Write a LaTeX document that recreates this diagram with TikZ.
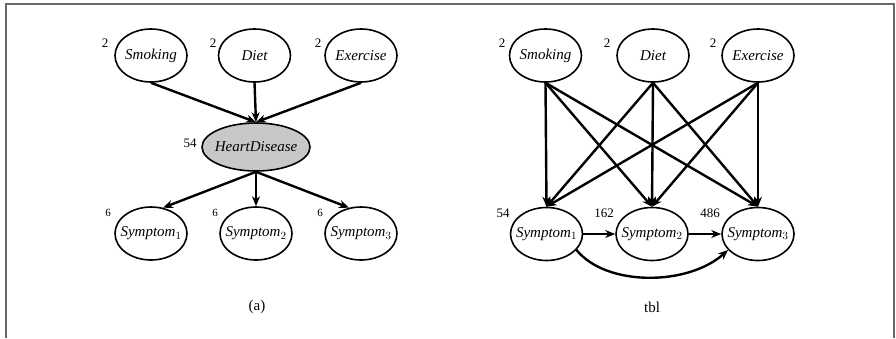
\documentclass[tikz,border=0pt]{standalone}
\usepackage{fontspec}
\setmainfont{Liberation Serif}
\usetikzlibrary{shapes.geometric,arrows.meta}
\definecolor{hdgray}{RGB}{200,200,200}
\definecolor{framegray}{RGB}{105,105,105}
\newcommand{\zw}[1]{\makebox[0pt][c]{#1}}
\begin{document}
\begin{tikzpicture}[x=1pt,y=-1pt,
  var/.style={ellipse,draw=black,line width=1.6pt,minimum width=72pt,minimum height=53pt,inner sep=0pt,font=\fontsize{15}{17}\selectfont\itshape},
  num/.style={inner sep=0pt,font=\fontsize{13}{15}\selectfont},
  smallnum/.style={inner sep=0pt,font=\fontsize{11}{13}\selectfont},
  arc/.style={line width=2.4pt,-{Stealth[length=10pt,width=8pt]}},
  captxt/.style={inner sep=0pt,font=\fontsize{15}{17}\selectfont}]
\useasboundingbox (0,0) rectangle (896,338);
\draw[framegray,line width=1.5pt] (6,338) -- (6,4) -- (894,4) -- (894,338);

% ---------- (a) ----------
\node[var] (sm) at (151,55.5) {\zw{Smoking}};
\node[var] (di) at (254.5,55.5) {\zw{Diet}};
\node[var] (ex) at (361,55.5) {\zw{Exercise}};
\node[var,fill=hdgray,minimum width=108pt,minimum height=48pt] (hd) at (256,147) {\zw{HeartDisease}};
\node[var] (s1) at (151,233.5) {\zw{Symptom$_1$}};
\node[var] (s2) at (256,233.5) {\zw{Symptom$_2$}};
\node[var] (s3) at (361,233.5) {\zw{Symptom$_3$}};

\node[num] (nsm) at (105,43) {2};
\node[num] (ndi) at (213,43) {2};
\node[num] (nex) at (318,43) {2};
\node[num] (nhd) at (190,143) {54};
\node[smallnum] (ns1) at (108,213) {6};
\node[smallnum] (ns2) at (215,213) {6};
\node[smallnum] (ns3) at (320,213) {6};

\draw[arc] (sm.south) -- (hd.north);
\draw[arc] (di.south) -- (hd.north);
\draw[arc] (ex.south) -- (hd.north);
\draw[arc] (hd.south) -- (s1.65);
\draw[arc] (hd.south) -- (s2.north);
\draw[arc] (hd.south) -- (s3.115);

\node[captxt] (capa) at (257,307) {(a)};

% ---------- (b) ----------
\node[var] (rsm) at (545.5,55.5) {\zw{Smoking}};
\node[var] (rdi) at (653,55.5) {\zw{Diet}};
\node[var] (rex) at (758,55.5) {\zw{Exercise}};
\node[var] (r1) at (546.5,234) {\zw{Symptom$_1$}};
\node[var] (r2) at (652,234) {\zw{Symptom$_2$}};
\node[var] (r3) at (758,234) {\zw{Symptom$_3$}};

\node[num] (nrsm) at (502,43) {2};
\node[num] (nrdi) at (607,43) {2};
\node[num] (nrex) at (713,43) {2};
\node[num] (nr1) at (503,213) {54};
\node[num] (nr2) at (604,213) {162};
\node[num] (nr3) at (710,213) {486};

\foreach \p in {rsm,rdi,rex}{
  \foreach \c in {r1,r2,r3}{
    \draw[arc] (\p.south) -- (\c.north);
  }
}
\draw[arc] (r1.east) -- (r2.west);
\draw[arc] (r2.east) -- (r3.west);
\draw[arc] (r1.-28) .. controls +(30,37) and +(-40,36) .. (r3.-152);

\node[captxt] (capb) at (652,307) {tbl};
\end{tikzpicture}
\end{document}
